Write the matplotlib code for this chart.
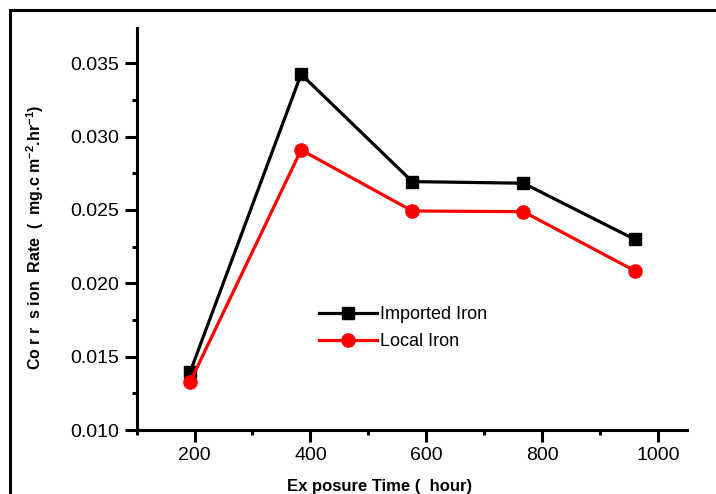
import matplotlib
matplotlib.use("Agg")
import matplotlib.pyplot as plt
from matplotlib.patches import Rectangle
from matplotlib.ticker import MultipleLocator, FormatStrFormatter

plt.rcParams['font.family'] = ['Liberation Sans', 'DejaVu Sans']
plt.rcParams['mathtext.default'] = 'regular'

exposure_hours = [192, 384, 576, 768, 960]
imported_iron = [0.01392, 0.03425, 0.02693, 0.02682, 0.02300]
local_iron = [0.01325, 0.02909, 0.02493, 0.02488, 0.02086]
series_labels = ["Imported Iron", "Local Iron"]
x_ticks = [200, 400, 600, 800, 1000]
y_ticks = [0.010, 0.015, 0.020, 0.025, 0.030, 0.035]

W, H = 716, 494
fig = plt.figure(figsize=(W / 100, H / 100), dpi=100)
fig.patch.set_facecolor('white')

# outer frame (only left/top visible)
fig.patches.append(Rectangle((10 / W, -0.2), 1.5, 1 - 10 / H + 0.2, transform=fig.transFigure,
                             fill=False, edgecolor='black', linewidth=2.2, zorder=0))

ax = fig.add_axes([136.7 / W, 1 - 430 / H, (686.7 - 136.7) / W, (430 - 28) / H])
ax.plot(exposure_hours, imported_iron, color='black', lw=2.3, marker='s', ms=8,
        label=series_labels[0], solid_joinstyle='miter')
ax.plot(exposure_hours, local_iron, color='#ff0000', lw=2.3, marker='o', ms=9.5,
        label=series_labels[1])

ax.set_xlim(100, 1050)
ax.set_ylim(0.010, 0.0374)
ax.set_xticks(x_ticks)
ax.set_yticks(y_ticks)
ax.xaxis.set_minor_locator(MultipleLocator(100))
ax.yaxis.set_minor_locator(MultipleLocator(0.0025))
ax.yaxis.set_major_formatter(FormatStrFormatter('%.3f'))

for s in ['top', 'right']:
    ax.spines[s].set_visible(False)
for s in ['left', 'bottom']:
    ax.spines[s].set_linewidth(2.2)
ax.tick_params(which='major', direction='out', length=8.5, width=2.2, labelsize=14, pad=4)
ax.tick_params(which='minor', direction='out', length=3.5, width=2.2)

leg = ax.legend(loc='upper left', bbox_to_anchor=((319 - 136.7) / 550, (430 - 306) / 402),
                frameon=False, fontsize=13, handlelength=3.2, handletextpad=0.2,
                borderpad=0, borderaxespad=0, labelspacing=0.55)

fig.text(380 / W, 1 - 486 / H, "Ex posure Time (  hour)", ha='center', va='center',
         fontsize=12, fontweight='bold')
fig.text(35 / W, 1 - 237 / H, "Co r r  s ion  Rate  (  mg.c m$^{-2}$.hr$^{-1}$)", ha='center',
         va='center', rotation=90, fontsize=11.5, fontweight='bold')

fig.savefig("out.png", dpi=100)
